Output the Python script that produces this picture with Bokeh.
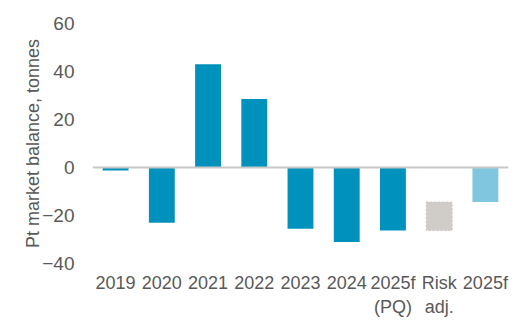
from bokeh.plotting import figure
from bokeh.models import Span, FixedTicker, Range1d
from bokeh.embed import file_html
from bokeh.resources import INLINE

categories = ["2019", "2020", "2021", "2022", "2023", "2024", "2025f\n(PQ)", "Risk\nadj.", "2025f"]
hist_labels = ["2019", "2020", "2021", "2022", "2023", "2024", "2025f\n(PQ)"]
hist_values = [-1.2, -23.0, 43.0, 28.5, -25.5, -31.0, -26.3]
risk_label = ["Risk\nadj."]
risk_top = [-14.4]
risk_bottom = [-26.3]
fcst_label = ["2025f"]
fcst_values = [-14.4]
y_ticks = [-40, -20, 0, 20, 40, 60]

FONT = "Liberation Sans"
GREY_TXT = "#595959"

p = figure(width=532, height=324, x_range=categories, y_range=Range1d(-40, 60),
           output_backend="svg", toolbar_location=None,
           min_border_left=92, min_border_right=24, min_border_top=23, min_border_bottom=61)

bw = 0.56
p.vbar(x=hist_labels, top=hist_values, bottom=0, width=bw, color="#0092BC", line_color=None)
p.vbar(x=risk_label, top=risk_top, bottom=risk_bottom, width=bw, fill_color="#D0CCC7",
       line_color="#CAC6C1", line_width=1, line_dash="2 2")
p.vbar(x=fcst_label, top=fcst_values, bottom=0, width=bw, color="#80C6DE", line_color=None)

zero = Span(location=0, dimension="width", line_color="#C8C8C8", line_width=2)
p.add_layout(zero)

p.outline_line_color = None
p.xgrid.grid_line_color = None
p.ygrid.grid_line_color = None

p.yaxis.ticker = FixedTicker(ticks=y_ticks)
p.yaxis.axis_line_color = None
p.yaxis.major_tick_line_color = None
p.yaxis.minor_tick_line_color = None
p.yaxis.major_label_standoff = 12
p.yaxis.major_label_text_font = FONT
p.yaxis.major_label_text_font_size = "19px"
p.yaxis.major_label_text_color = GREY_TXT
p.yaxis.axis_label = "Pt market balance, tonnes"
p.yaxis.axis_label_text_font = FONT
p.yaxis.axis_label_text_font_size = "18px"
p.yaxis.axis_label_text_font_style = "normal"
p.yaxis.axis_label_text_color = GREY_TXT
p.yaxis.axis_label_standoff = -4

p.xaxis.axis_line_color = None
p.xaxis.major_tick_line_color = None
p.xaxis.minor_tick_line_color = None
p.xaxis.major_label_standoff = 3
p.xaxis.major_label_text_font = FONT
p.xaxis.major_label_text_font_size = "18px"
p.xaxis.major_label_text_color = GREY_TXT
p.x_range.range_padding = 0

open("out.html", "w").write(file_html(p, INLINE))
